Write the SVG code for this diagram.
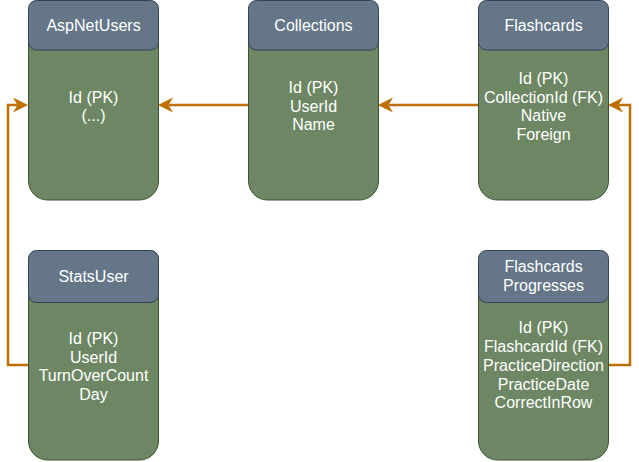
<svg xmlns="http://www.w3.org/2000/svg" width="639" height="462" viewBox="0 0 639 462">
  <style>
    .body { fill: #6d8764; stroke: #3a5431; stroke-width: 1; }
    .head { fill: #647687; stroke: #314354; stroke-width: 1; }
    .t { font-family: "Liberation Sans", Arial, sans-serif; font-size: 16px; fill: #ffffff; text-anchor: middle; }
    .conn { fill: none; stroke: #bd7000; stroke-width: 2.5; }
  </style>
  <defs>
    <marker id="arrow" markerUnits="userSpaceOnUse" markerWidth="16" markerHeight="16" refX="4" refY="7.5" orient="auto" viewBox="0 0 16 16">
      <path d="M15,7.5 L0,0 L4.5,7.5 L0,15 Z" fill="#bd7000" stroke="none"/>
    </marker>
  </defs>

  <g id="connectors">
    <path class="conn" d="M248,105 L169,105" marker-end="url(#arrow)"/>
    <path class="conn" d="M478,105 L389,105" marker-end="url(#arrow)"/>
    <path class="conn" d="M28,365 L8,365 L8,105 L17,105" marker-end="url(#arrow)"/>
    <path class="conn" d="M608,365 L630,365 L630,105 L619,105" marker-end="url(#arrow)"/>
  </g>

  <g id="AspNetUsers">
    <rect class="body" x="28.5" y="0.5" width="130" height="199.5" rx="19" ry="19"/>
    <rect class="head" x="28.5" y="0.5" width="130" height="49.5" rx="8" ry="8"/>
    <text class="t" x="93.5" y="31">AspNetUsers</text>
    <text class="t" x="93.5" y="102.5">Id (PK)</text>
    <text class="t" x="93.5" y="121">(...)</text>
  </g>

  <g id="Collections">
    <rect class="body" x="248.5" y="0.5" width="130" height="199.5" rx="19" ry="19"/>
    <rect class="head" x="248.5" y="0.5" width="130" height="49.5" rx="8" ry="8"/>
    <text class="t" x="313.5" y="31">Collections</text>
    <text class="t" x="313.5" y="93.3">Id (PK)</text>
    <text class="t" x="313.5" y="111.8">UserId</text>
    <text class="t" x="313.5" y="130.3">Name</text>
  </g>

  <g id="Flashcards">
    <rect class="body" x="478.5" y="0.5" width="130" height="199.5" rx="19" ry="19"/>
    <rect class="head" x="478.5" y="0.5" width="130" height="49.5" rx="8" ry="8"/>
    <text class="t" x="543.5" y="31">Flashcards</text>
    <text class="t" x="543.5" y="84">Id (PK)</text>
    <text class="t" x="543.5" y="102.5">CollectionId (FK)</text>
    <text class="t" x="543.5" y="121">Native</text>
    <text class="t" x="543.5" y="139.5">Foreign</text>
  </g>

  <g id="StatsUser">
    <rect class="body" x="28.5" y="250.5" width="130" height="209.5" rx="19" ry="19"/>
    <rect class="head" x="28.5" y="250.5" width="130" height="52" rx="8" ry="8"/>
    <text class="t" x="93.5" y="281.7">StatsUser</text>
    <text class="t" x="93.5" y="344.3">Id (PK)</text>
    <text class="t" x="93.5" y="362.8">UserId</text>
    <text class="t" x="93.5" y="381.3">TurnOverCount</text>
    <text class="t" x="93.5" y="399.8">Day</text>
  </g>

  <g id="FlashcardsProgresses">
    <rect class="body" x="478.5" y="250.5" width="130" height="209.5" rx="19" ry="19"/>
    <rect class="head" x="478.5" y="250.5" width="130" height="52" rx="8" ry="8"/>
    <text class="t" x="543.5" y="272.3">Flashcards</text>
    <text class="t" x="543.5" y="291">Progresses</text>
    <text class="t" x="543.5" y="333.2">Id (PK)</text>
    <text class="t" x="543.5" y="352">FlashcardId (FK)</text>
    <text class="t" x="543.5" y="370.8">PracticeDirection</text>
    <text class="t" x="543.5" y="389.6">PracticeDate</text>
    <text class="t" x="543.5" y="408.4">CorrectInRow</text>
  </g>
</svg>
